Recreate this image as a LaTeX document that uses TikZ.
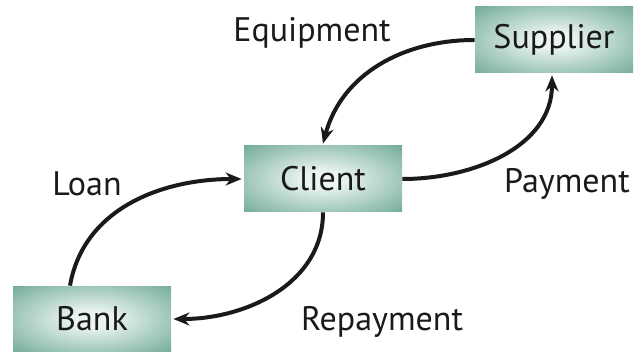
\documentclass[tikz,border=0pt]{standalone}
\usepackage{fontspec}
\setmainfont{PT Sans}
\usetikzlibrary{arrows.meta, shadings}
\definecolor{boxteal}{HTML}{5A9C89}
\definecolor{boxlight}{HTML}{EAF4F0}
\definecolor{flowink}{HTML}{1A1A1A}
\pgfdeclareradialshading{boxglow}{\pgfpoint{0bp}{0bp}}{%
  color(0bp)=(boxlight); color(6bp)=(boxlight);
  color(42bp)=(boxteal); color(80bp)=(boxteal)}

\begin{document}
\begin{tikzpicture}[
  x=0.5pt, y=-0.5pt,
  party/.style={rectangle, shading=boxglow, minimum width=79pt, minimum height=33pt, inner sep=0pt, font=\fontsize{17}{20}\selectfont, text=flowink},
  tag/.style={font=\fontsize{17}{20}\selectfont, text=flowink, inner sep=0pt},
  flow/.style={-{Stealth[length=8pt, width=6.5pt]}, line width=2pt, color=flowink}
]
  \useasboundingbox (0,0) rectangle (642,352);

  \node[party] (client) at (323,179) {Client};
  \node[party] (supplier) at (554,40) {Supplier};
  \node[party] (bank) at (92,319) {Bank};

  \node[tag] (equip) at (312,33) {Equipment};
  \node[tag] (pay) at (567,184) {Payment};
  \node[tag] (loan) at (87,184) {Loan};
  \node[tag] (repay) at (382,322) {Repayment};

  \draw[flow] (supplier.west) to[out=180, in=75] ([yshift=1pt]client.north);
  \draw[flow] (client.east) to[out=0, in=-90] ([xshift=-1pt,yshift=-1pt]supplier.south);
  \draw[flow] ([xshift=-11pt]bank.north) to[out=80, in=180] ([xshift=-1pt]client.west);
  \draw[flow] (client.south) to[out=-90, in=0] ([xshift=1pt]bank.east);
\end{tikzpicture}
\end{document}
